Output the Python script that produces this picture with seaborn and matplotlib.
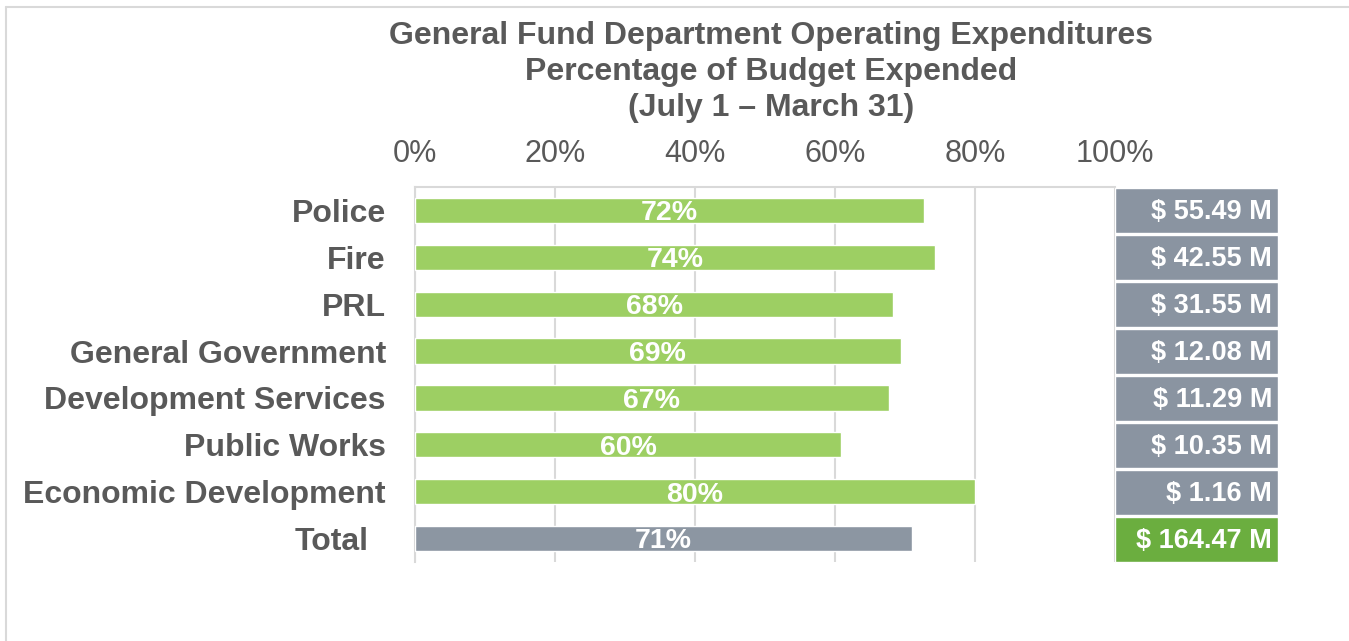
import matplotlib
matplotlib.use('Agg')
import matplotlib.pyplot as plt
import seaborn as sns
import pandas as pd

# --- PALETTE ---
TEXT_GREY = '#595959'
BAR_GREEN = '#9DCF63'
TOTAL_GREY = '#8C96A2'
BOX_GREY = '#8A94A1'
BOX_GREEN = '#6BAE3F'
GRID_GREY = '#D9D9D9'

# --- DATA ---
departments = ['Police', 'Fire', 'PRL', 'General Government', 'Development Services',
               'Public Works', 'Economic Development', 'Total']
pct_expended = [72.7, 74.3, 68.3, 69.4, 67.7, 60.9, 80.0, 71.0]
pct_labels = ['72%', '74%', '68%', '69%', '67%', '60%', '80%', '71%']
expended_labels = ['$ 55.49 M', '$ 42.55 M', '$ 31.55 M', '$ 12.08 M', '$ 11.29 M',
                   '$ 10.35 M', '$ 1.16 M', '$ 164.47 M']
x_ticks = [0, 20, 40, 60, 80, 100]
x_tick_labels = ['0%', '20%', '40%', '60%', '80%', '100%']

FONT = ['Liberation Sans', 'DejaVu Sans']


def build_chart():
    sns.set_style('white')
    plt.rcParams['font.family'] = FONT

    df = pd.DataFrame({'dept': departments, 'pct': pct_expended})
    bar_colors = [BAR_GREEN] * (len(departments) - 1) + [TOTAL_GREY]
    box_colors = [BOX_GREY] * (len(departments) - 1) + [BOX_GREEN]

    fig = plt.figure(figsize=(13.49, 6.41), dpi=100)
    W, H = 1349, 641

    # outer frame
    fig.add_artist(plt.Line2D([6 / W, 6 / W], [0, 1 - 7 / H], color=GRID_GREY, lw=1.5))
    fig.add_artist(plt.Line2D([6 / W, 1], [1 - 7 / H, 1 - 7 / H], color=GRID_GREY, lw=1.5))

    # --- main bar axes ---
    ax = fig.add_axes([415 / W, 1 - 562 / H, 700 / W, 375 / H])
    sns.barplot(data=df, x='pct', y='dept', hue='dept', palette=bar_colors,
                saturation=1, legend=False, orient='h', width=0.54, ax=ax, zorder=3)
    ax.set_xlim(0, 100)
    ax.set_ylim(len(departments) - 0.5, -0.5)
    ax.set_xlabel('')
    ax.set_ylabel('')

    ax.xaxis.tick_top()
    ax.set_xticks(x_ticks)
    ax.set_xticklabels(x_tick_labels, fontsize=22, color=TEXT_GREY)
    ax.tick_params(axis='x', length=0, pad=13)
    ax.tick_params(axis='y', length=0, pad=21)
    ax.set_yticks(range(len(departments)))
    ax.set_yticklabels(departments, fontsize=23, fontweight='bold', color=TEXT_GREY)
    # the Total label sits a bit further left
    ax.get_yticklabels()[-1].set_x(-0.025)

    ax.grid(axis='x', color=GRID_GREY, lw=1.5, zorder=0)
    for side in ['right', 'bottom']:
        ax.spines[side].set_visible(False)
    ax.spines['top'].set_color(GRID_GREY)
    ax.spines['left'].set_color(GRID_GREY)
    ax.spines['top'].set_linewidth(1.5)
    ax.spines['left'].set_linewidth(1.5)

    for i, (val, lab) in enumerate(zip(pct_expended, pct_labels)):
        ax.text(val / 2, i + 0.06, lab, ha='center', va='center', color='white',
                fontsize=20.5, fontweight='bold', zorder=4)

    # --- expended amount boxes ---
    axb = fig.add_axes([1115 / W, 1 - 563 / H, 163 / W, 376 / H])
    axb.barh(range(len(departments)), [1] * len(departments), height=0.95,
             color=box_colors, left=0)
    axb.set_xlim(0, 1)
    axb.set_ylim(len(departments) - 0.5, -0.5)
    axb.axis('off')
    for i, lab in enumerate(expended_labels):
        axb.text(0.965, i + 0.03, lab, ha='right', va='center', color='white',
                 fontsize=19.5, fontweight='bold')

    # --- title ---
    fig.text(771 / W, 1 - 72 / H,
             'General Fund Department Operating Expenditures\n'
             'Percentage of Budget Expended\n(July 1 \u2013 March 31)',
             ha='center', va='center', fontsize=23, fontweight='bold',
             color=TEXT_GREY, linespacing=1.24)

    fig.savefig('out.png', dpi=100, facecolor='white')
    plt.close(fig)


if __name__ == '__main__':
    build_chart()
